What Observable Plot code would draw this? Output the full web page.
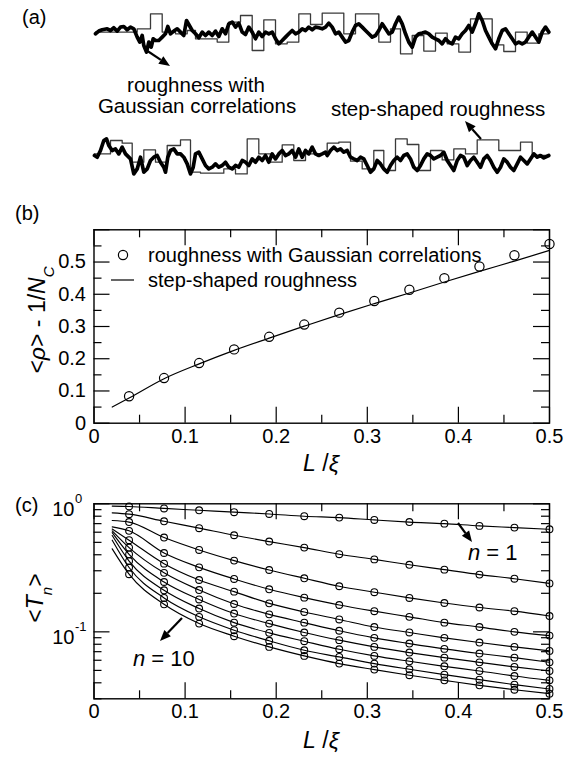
<!DOCTYPE html>
<html><head><meta charset="utf-8">
<script src="https://cdn.jsdelivr.net/npm/d3@7"></script>
<script src="https://cdn.jsdelivr.net/npm/@observablehq/plot@0.6"></script>
<style>
body{margin:0;background:#fff;}
#chart{position:relative;width:579px;height:758px;background:#fff;}
#chart svg{position:absolute;left:0;overflow:visible;background:transparent;}
</style></head><body><div id="chart"></div>
<script>
// ---------- panel (a): roughness profiles (position s along strip, height h) ----------
const topThick = [[1,0],[4.3,2.7],[7.7,4],[12.7,5],[16,3.3],[19.3,6],[22.7,2.7],[26,6.7],[29.3,7.3],[32.7,4],[36,6.7],[39.3,5],[42.7,-3.3],[45.3,-8.3],[47.7,-1.7],[49.3,-11.7],[52,-18.3],[54.3,-8.3],[56.7,-13.3],[58.7,-5],[61,-6.7],[64.3,-6.7],[67.7,-3.3],[71,0],[73.3,7.3],[76,0],[79.3,2.7],[82.7,5],[86,1.7],[89.3,-1.7],[92,13.3],[94.3,9.3],[97.7,3.3],[101,0],[104.3,-4],[107.7,1.7],[111,-1.7],[114.3,1.7],[117.7,-1.7],[121,2.7],[124.3,-2.7],[127.7,5],[131,0],[134.3,10],[137.7,11.7],[141,6.7],[144.3,10.7],[147.7,1.7],[151,-0.7],[154.3,6.7],[157.7,1.7],[161,-5],[164.3,1.7],[167.7,-2.7],[171,1.7],[174.3,0],[177.7,1.7],[181,-5],[184.3,-10],[187.7,-6.7],[191,-3.3],[194.3,0],[197.7,3.3],[201,0],[204.3,1.7],[207.7,5],[211,3.3],[214.3,6.7],[217.7,4],[221,6.7],[224.3,6],[227.7,5],[231,6.7],[234.3,10.7],[237.7,6.7],[241,0],[244.3,1.7],[247.7,-3.3],[251,-8.3],[254.3,-6.7],[257.7,1.7],[261,8.3],[264.3,10],[267.7,6.7],[271,3.3],[274.3,0],[277.7,-3.3],[281,-1.7],[284.3,3.3],[287.7,10],[291,5],[294.3,0],[297.7,1.7],[301,10],[304.3,16.7],[307.7,10],[311,0],[314.3,-8.3],[317.7,-13.3],[321,-3.3],[324.3,0],[327.7,0.7],[331,1.7],[334.3,0],[337.7,-3.3],[341,-5],[344.3,-6.7],[347.7,-10],[351,-5],[354.3,-8.3],[357.7,-10],[361,-3.3],[364.3,-5],[367.7,0],[371,3.3],[374.3,8.3],[377.7,1.7],[381,10],[384.3,20],[387.7,13.3],[391,3.3],[394.3,-3.3],[397.7,-10],[401,-15],[404.3,-5],[407.7,3.3],[411,5],[414.3,0],[417.7,-5],[421,-10],[424.3,-8.3],[427.7,-10],[431,-8.3],[434.3,-3.3],[437.7,1.7],[441,-3.3],[444.3,-8.3],[447.7,1.7],[451,6.7],[454.3,1.7]];
const topStepS = [1,42.7,56,67.7,81,92.7,101,122.7,134.3,146,157.7,169.3,181,192.7,204.3,216,227.7,249.3,261,284.3,296,306,317.7,329.3,341,352.7,364.3,376,397.7,409.3,421,432.7,444.3,454.3];
const topStepH = [1.7,5,20,1.7,0,3.3,-5,-8.3,11.7,18.3,-16.7,14,-10,-8.3,20,9.3,20.7,0,20,-8.3,5,-20,-1.7,-17.3,0.7,-10,-18.3,15,-11,-17.7,1.7,-9.3,0,0];
const botThick = [[0,1.7],[2.7,0],[6,6.7],[9.3,16.7],[12,18.3],[14.3,11.7],[17.7,6.7],[21,8.3],[24.3,3.3],[27.7,10],[31,3.3],[36,-1.7],[39.3,-16.7],[42.7,-11.7],[46,0],[49.3,-15],[52.7,-11.7],[56,-3.3],[59.3,0],[62.7,1.7],[66,-5],[69.3,-10],[71,-15],[73.3,0],[76,6.7],[79.3,8.3],[82.7,3.3],[86,3.3],[89.3,0],[92.7,-6.7],[96,-16.7],[98.7,-10],[101,3.3],[104.3,5],[107.7,-1.7],[111,-8.3],[114.3,-11.7],[117.7,-10],[121,-6.7],[124.3,-10],[127.7,-8.3],[131,-5],[134.3,-10],[137.7,-11.7],[141,-8.3],[144.3,-10],[147.7,-3.3],[151,-5],[154.3,-8.3],[157.7,-1.7],[161,-5],[164.3,0],[167.7,-3.3],[171,1.7],[174.3,-5],[177.7,3.3],[181,-1.7],[184.3,3.3],[187.7,6.7],[191,1.7],[194.3,3.3],[197.7,6.7],[201,0],[204.3,8.3],[207.7,0],[211,6.7],[214.3,3.3],[217.7,10],[221,3.3],[224.3,1.7],[227.7,3.3],[231,5],[232.7,1.7],[236,6.7],[239.3,10],[242.7,6.7],[246,8.3],[249.3,5],[252.7,6.7],[256,0],[259.3,-1.7],[262.7,-3.3],[266,0],[269.3,-1.7],[272.7,-8.3],[276,-15],[279.3,-11.7],[282.7,-3.3],[286,-6.7],[289.3,-11.7],[292.7,-15],[296,-8.3],[299.3,-3.3],[302.7,0],[306,-3.3],[309.3,1.7],[312.7,3.3],[316,-1.7],[319.3,-10],[322.7,-13.3],[326,-8.3],[329.3,-1.7],[332.7,3.3],[336,1.7],[339.3,-1.7],[342.7,0],[346,1.7],[349.3,5],[352.7,-3.3],[356,-8.3],[359.3,-13.3],[362.7,-3.3],[366,1.7],[369.3,0],[372.7,-8.3],[376,-3.3],[379.3,0],[382.7,-5],[386,-10],[389.3,-1.7],[392.7,1.7],[396,-3.3],[399.3,-10],[402.7,-15],[406,-10],[409.3,-1.7],[412.7,-5],[416,-10],[419.3,-13.3],[422.7,-6.7],[426,0],[429.3,-3.3],[432.7,-6.7],[436,-1.7],[439.3,3.3],[442.7,0],[446,1.7],[449.3,-0.7],[454.3,1.7]];
const botStepS = [0,16,27.7,37.7,49.3,61,72.7,86,96,106,129.3,141,152.7,164.3,176,187.7,199.3,211,232.7,244.3,256,267.7,279.3,289.3,301,312.7,324.3,336,347.7,359.3,371,382.7,404.3,426,437.7,454.3];
const botStepH = [3.3,16.7,14,-5,7.3,-5,11.7,17.3,-15,-16,-11.7,-16.7,18.3,3.3,-5,12.3,-3.3,3.3,14,15,-4,-11.7,6.7,-13.3,18.3,12.7,-13.3,6.7,-2.7,8.3,3.3,17.3,6.7,15,1.7,1.7];

// ---------- panel (b) ----------
const Lxi = [0.0385,0.0769,0.1154,0.1538,0.1923,0.2308,0.2692,0.3077,0.3462,0.3846,0.4231,0.4615,0.5];
const rhoGauss = [0.0835,0.140,0.1866,0.229,0.268,0.306,0.343,0.379,0.414,0.450,0.486,0.521,0.556];
const stepLineX = [0.02,0.0385,0.0769,0.1154,0.1538,0.1923,0.2308,0.2692,0.3077,0.3462,0.3846,0.4231,0.4615,0.5];
const rhoStep = [0.050,0.078,0.138,0.184,0.226,0.264,0.301,0.337,0.371,0.404,0.438,0.471,0.503,0.536];
const xMajor = [0,0.1,0.2,0.3,0.4,0.5];
const xMinor = [0.05,0.15,0.25,0.35,0.45];
const yMajorB = [0,0.1,0.2,0.3,0.4,0.5,0.6];
const yMinorB = [0.05,0.15,0.25,0.35,0.45,0.55];
const yLabelsB = [0,0.1,0.2,0.3,0.4,0.5];

// ---------- panel (c): <T_n>, n = 1..10 ----------
const Tn = [
 [0.953,0.92,0.89,0.86,0.833,0.80,0.78,0.748,0.72,0.70,0.672,0.652,0.632],
 [0.83,0.73,0.645,0.568,0.507,0.455,0.404,0.368,0.334,0.306,0.28,0.26,0.239],
 [0.72,0.545,0.436,0.36,0.304,0.262,0.227,0.204,0.184,0.168,0.155,0.145,0.133],
 [0.615,0.413,0.319,0.259,0.215,0.185,0.162,0.145,0.131,0.118,0.109,0.100,0.0935],
 [0.52,0.341,0.254,0.206,0.167,0.143,0.125,0.109,0.0989,0.0898,0.0825,0.0763,0.071],
 [0.455,0.289,0.212,0.165,0.137,0.118,0.102,0.0898,0.081,0.0736,0.0677,0.0629,0.0578],
 [0.403,0.245,0.179,0.139,0.116,0.0988,0.0861,0.0763,0.0689,0.0629,0.0578,0.0532,0.0495],
 [0.357,0.211,0.152,0.118,0.0982,0.0845,0.0731,0.0649,0.0589,0.0538,0.0495,0.0452,0.0418],
 [0.318,0.184,0.131,0.103,0.0851,0.0718,0.0637,0.0565,0.051,0.0463,0.0423,0.0387,0.0358],
 [0.282,0.164,0.116,0.0925,0.0763,0.0649,0.0565,0.0507,0.0458,0.0418,0.0382,0.0353,0.0329]
];
const curveStartT = [0.96,0.85,0.74,0.66,0.635,0.615,0.595,0.565,0.52,0.445];
const yMajorC = [0.1,1];
const yMinorC = [0.03,0.04,0.05,0.06,0.07,0.08,0.09,0.2,0.3,0.4,0.5,0.6,0.7,0.8,0.9];
const yLabelsC = [{v:1, e:"0"},{v:0.1, e:"-1"}];

// ---------- helpers ----------
const FONT = "'Liberation Sans', Arial, Helvetica, sans-serif";
const chart = document.getElementById("chart");
function place(svg, top){ svg.style.top = top + "px"; chart.appendChild(svg); return svg; }
function label(svg, x, y, parts, {size=20, anchor="start", rotate=0}={}){
  const t = d3.select(svg).append("text")
    .attr("transform", `translate(${x},${y}) rotate(${rotate})`)
    .attr("text-anchor", anchor).attr("dy","0.35em").attr("fill","black")
    .style("font-size", size+"px").style("font-family", FONT);
  for (const p of parts){
    const [s, st={}] = Array.isArray(p) ? p : [p];
    const ts = t.append("tspan").text(s);
    if (st.italic) ts.style("font-style","italic");
    if (st.sub) ts.attr("baseline-shift","sub").style("font-size", st.sub+"px");
  }
}
function arrow(svg, x1, y1, x2, y2){
  const a = Math.atan2(y2-y1, x2-x1), L = 11, W = 4.5;
  const bx = x2 - L*Math.cos(a), by = y2 - L*Math.sin(a);
  const g = d3.select(svg).append("g");
  g.append("line").attr("x1",x1).attr("y1",y1).attr("x2",bx).attr("y2",by).attr("stroke","black").attr("stroke-width",2.2);
  g.append("path").attr("d",`M${x2},${y2}L${bx-W*Math.sin(a)},${by+W*Math.cos(a)}L${bx+W*Math.sin(a)},${by-W*Math.cos(a)}Z`).attr("fill","black");
}
function boxTicks(innerW, innerH, yMajor, yMinor){
  const big = 16, small = 8, st = {stroke:"black", strokeWidth:1.2};
  return [
    Plot.tickX(xMajor, {x:d=>d, insetTop: innerH-big, ...st}),
    Plot.tickX(xMajor, {x:d=>d, insetBottom: innerH-big, ...st}),
    Plot.tickX(xMinor, {x:d=>d, insetTop: innerH-small, ...st}),
    Plot.tickX(xMinor, {x:d=>d, insetBottom: innerH-small, ...st}),
    Plot.tickY(yMajor, {y:d=>d, insetRight: innerW-big, ...st}),
    Plot.tickY(yMajor, {y:d=>d, insetLeft: innerW-big, ...st}),
    Plot.tickY(yMinor, {y:d=>d, insetRight: innerW-small, ...st}),
    Plot.tickY(yMinor, {y:d=>d, insetLeft: innerW-small, ...st}),
    Plot.frame({stroke:"black", strokeWidth:1.4})
  ];
}

// ---------- panel (a) ----------
const TOP_BASE = 33.3, BOT_BASE = 156.7;
const A = Plot.plot({
  width: 579, height: 185, marginLeft: 94, marginRight: 28, marginTop: 0, marginBottom: 0,
  style: {fontFamily: FONT, background: "transparent"},
  x: {domain: [0, 457], axis: null},
  y: {domain: [0, 185], range: [0, 185], axis: null},
  marks: [
    Plot.line(topStepS.map((s,i)=>({s, h: topStepH[i]})), {x:"s", y:d=>TOP_BASE-d.h, curve:"step-after", stroke:"#3a3a3a", strokeWidth:1.3}),
    Plot.line(botStepS.map((s,i)=>({s, h: botStepH[i]})), {x:"s", y:d=>BOT_BASE-d.h, curve:"step-after", stroke:"#3a3a3a", strokeWidth:1.3}),
    Plot.line(topThick, {x:d=>d[0], y:d=>TOP_BASE-d[1], stroke:"black", strokeWidth:3.7, strokeLinejoin:"round", strokeLinecap:"round"}),
    Plot.line(botThick, {x:d=>d[0], y:d=>BOT_BASE-d[1], stroke:"black", strokeWidth:3.7, strokeLinejoin:"round", strokeLinecap:"round"})
  ]
});
place(A, 0);
label(A, 22, 17, ["(a)"], {size: 20});
label(A, 196, 85, ["roughness with"], {size: 20.5, anchor: "middle"});
label(A, 197, 106, ["Gaussian correlations"], {size: 20.5, anchor: "middle"});
label(A, 438, 109, ["step-shaped roughness"], {size: 20.5, anchor: "middle"});
arrow(A, 146, 50, 170, 66);
arrow(A, 481, 139, 465, 121);

// ---------- panel (b) ----------
const bH = 290, bMT = 44.3, bMB = 52.3, bML = 93.5, bMR = 30;
const B = Plot.plot({
  width: 579, height: bH, marginLeft: bML, marginRight: bMR, marginTop: bMT, marginBottom: bMB,
  style: {fontFamily: FONT, background: "transparent"},
  x: {domain: [0, 0.5], axis: null},
  y: {domain: [0, 0.6], axis: null},
  marks: [
    ...boxTicks(579-bML-bMR, bH-bMT-bMB, yMajorB, yMinorB),
    Plot.text(xMajor, {x:d=>d, text:d=>String(d), frameAnchor:"bottom", dy:20, fontSize:20, fill:"black"}),
    Plot.text(yLabelsB, {y:d=>d, text:d=>String(d), frameAnchor:"left", textAnchor:"end", dx:-8, fontSize:20, fill:"black"}),
    Plot.line(stepLineX.map((x,i)=>({x, y: rhoStep[i]})), {x:"x", y:"y", stroke:"black", strokeWidth:1.2, curve:"monotone-x"}),
    Plot.dot(Lxi.map((x,i)=>({x, y: rhoGauss[i]})), {x:"x", y:"y", r:4.6, stroke:"black", strokeWidth:1.2, fill:"none"})
  ]
});
place(B, 185);
label(B, 15, 28, ["(b)"], {size: 20});
d3.select(B).append("circle").attr("cx",123).attr("cy",70).attr("r",4.6).attr("fill","none").attr("stroke","black").attr("stroke-width",1.2);
label(B, 148, 70, ["roughness with Gaussian correlations"], {size: 20});
d3.select(B).append("line").attr("x1",111).attr("x2",134).attr("y1",95).attr("y2",95).attr("stroke","black").attr("stroke-width",1.2);
label(B, 148, 95, ["step-shaped roughness"], {size: 20});
label(B, 37, 135, ["<", ["ρ",{italic:true}], "> - 1/", ["N",{italic:true}], ["C",{italic:true, sub:15}]], {size: 23, anchor: "middle", rotate: -90});
label(B, 321, 278, [["L",{italic:true}], " /", ["ξ",{italic:true}]], {size: 23, anchor: "middle"});

// ---------- panel (c) ----------
const cH = 283, cMT = 28.3, cMB = 59.7, cML = 93.5, cMR = 30;
const dotsC = [], linesC = [];
Tn.forEach((row, n) => {
  linesC.push({n: n+1, x: 0.02, y: curveStartT[n]});
  row.forEach((v, k) => { dotsC.push({n: n+1, x: Lxi[k], y: v}); linesC.push({n: n+1, x: Lxi[k], y: v}); });
});
const C = Plot.plot({
  width: 579, height: cH, marginLeft: cML, marginRight: cMR, marginTop: cMT, marginBottom: cMB,
  style: {fontFamily: FONT, background: "transparent"},
  x: {domain: [0, 0.5], axis: null},
  y: {type: "log", domain: [0.03, 1], axis: null},
  marks: [
    ...boxTicks(579-cML-cMR, cH-cMT-cMB, yMajorC, yMinorC),
    Plot.text(xMajor, {x:d=>d, text:d=>String(d), frameAnchor:"bottom", dy:19, fontSize:20, fill:"black"}),
    Plot.text(yLabelsC, {y:"v", text:()=>"10", frameAnchor:"left", textAnchor:"end", dx:-19.5, dy:6, fontSize:20, fill:"black"}),
    Plot.text(yLabelsC, {y:"v", text:"e", frameAnchor:"left", textAnchor:"start", dx:-19, dy:-5, fontSize:13, fill:"black"}),
    Plot.line(linesC, {x:"x", y:"y", z:"n", stroke:"black", strokeWidth:1.15, curve:"monotone-x"}),
    Plot.dot(dotsC, {x:"x", y:"y", r:3.4, stroke:"black", strokeWidth:1.1, fill:"none"})
  ]
});
place(C, 475);
label(C, 15, 30, ["(c)"], {size: 20});
label(C, 35, 123, ["<", ["T",{italic:true}], ["n",{italic:true, sub:15}], ">"], {size: 23, anchor: "middle", rotate: -90});
label(C, 321, 265, [["L",{italic:true}], " /", ["ξ",{italic:true}]], {size: 23, anchor: "middle"});
label(C, 468, 77, [["n",{italic:true}], " = 1"], {size: 22});
label(C, 133, 183, [["n",{italic:true}], " = 10"], {size: 22});
arrow(C, 458, 48, 472, 67);
arrow(C, 182, 143, 160, 166);
</script></body></html>
